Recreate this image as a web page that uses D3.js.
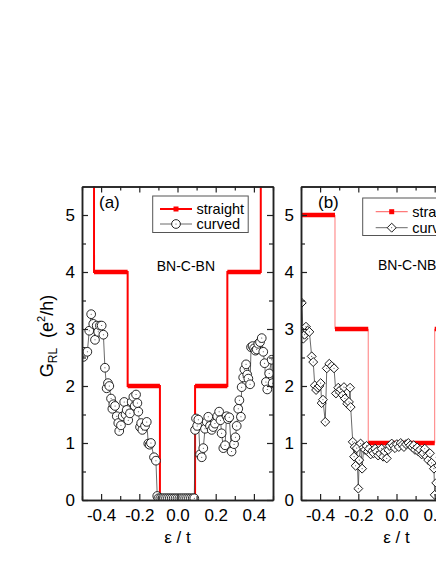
<!DOCTYPE html>
<html><head><meta charset="utf-8">
<script src="https://cdn.jsdelivr.net/npm/d3@7"></script>
<style>body{margin:0;background:#fff}svg{display:block}text{font-family:"Liberation Sans",Arial,sans-serif;fill:#000}</style>
</head><body><svg id="c" width="436" height="564"></svg>
<script>
// ---- data ----
const xTicks = [-0.4, -0.2, 0.0, 0.2, 0.4];
const yTicks = [0, 1, 2, 3, 4, 5];
const legendLabels = ["straight", "curved"];
const panelLabels = ["(a)", "(b)"];
const structLabels = ["BN-C-BN", "BN-C-NB"];

// panel (a) straight (step) data
const straightAx = [-0.437, -0.437, -0.261, -0.261, -0.092, -0.092, 0.092, 0.092, 0.261, 0.261, 0.436, 0.436];
const straightAy = [6, 4, 4, 2, 2, 0, 0, 2, 2, 4, 4, 6];
// panel (a) curved data
const curvedAx = [-0.493,-0.490,-0.472,-0.462,-0.452,-0.441,-0.432,-0.423,-0.415,-0.406,-0.397,-0.388,-0.380,-0.371,-0.364,-0.357,-0.348,-0.341,-0.336,-0.327,-0.318,-0.310,-0.305,-0.296,-0.287,-0.279,-0.272,-0.266,-0.258,-0.249,-0.240,-0.231,-0.224,-0.217,-0.210,-0.205,-0.196,-0.190,-0.184,-0.170,-0.161,-0.153,-0.146,-0.139,-0.123,-0.113,-0.106,
  -0.100,-0.090,-0.080,-0.070,-0.060,-0.050,-0.040,-0.030,-0.020,-0.010,0.000,0.010,0.020,0.030,0.040,0.050,0.060,0.070,0.080,0.088,
  0.092,0.097,0.103,0.109,0.118,0.127,0.135,0.144,0.153,0.161,0.170,0.179,0.187,0.196,0.208,0.218,0.225,0.231,0.240,0.249,0.257,0.264,0.271,0.283,0.296,0.303,0.310,0.318,0.324,0.332,0.336,0.344,0.350,0.359,0.365,0.371,0.380,0.385,0.393,0.401,0.408,0.415,0.423,0.432,0.441,0.449,0.456,0.463,0.470,0.480,0.493,0.498];
const curvedAy = [2.51,2.60,2.60,2.97,3.26,3.09,2.81,3.06,2.95,3.06,3.06,2.90,2.32,1.96,2.05,2.00,1.78,1.60,1.68,1.65,1.47,1.35,1.21,1.31,1.47,1.72,1.50,1.58,1.40,1.52,1.72,1.81,1.65,1.85,1.70,1.55,1.28,1.35,1.23,1.30,1.37,0.99,0.97,1.00,0.75,0.69,0.07,
  0.03,0.03,0.03,0.03,0.03,0.03,0.03,0.03,0.03,0.03,0.03,0.03,0.03,0.03,0.03,0.03,0.03,0.03,0.03,0.03,
  1.23,1.43,1.30,1.41,0.80,0.75,0.91,1.25,1.37,1.46,1.30,1.23,1.28,1.34,1.47,1.55,1.40,1.17,0.91,0.96,1.47,1.42,1.45,0.85,0.98,1.10,1.30,1.60,1.75,1.46,1.98,2.15,2.29,2.38,2.20,2.13,2.03,2.68,2.70,2.66,2.62,2.64,2.74,2.77,2.84,2.60,2.40,2.07,1.94,2.22,2.46,2.05];

// panel (b) straight (step) data
const straightBx = [-0.5, -0.5, -0.322, -0.322, -0.148, -0.148, 0.2, 0.2, 0.37, 0.37, 0.5];
const straightBy = [6, 5, 5, 3, 3, 1, 1, 3, 3, 5, 5];
// panel (b) curved data
const curvedBx = [-0.496,-0.488,-0.481,-0.474,-0.465,-0.456,-0.444,-0.436,-0.428,-0.421,-0.412,-0.404,-0.397,-0.392,-0.385,-0.373,-0.365,-0.352,-0.339,-0.327,-0.317,-0.305,-0.298,-0.292,-0.282,-0.275,-0.270,-0.258,-0.249,-0.243,-0.240,
  -0.229,-0.222,-0.219,-0.214,-0.208,-0.200,-0.195,-0.188,-0.180,-0.172,-0.165,-0.157,-0.150,-0.143,-0.135,-0.127,-0.120,-0.112,-0.104,-0.096,-0.086,-0.078,-0.070,-0.062,-0.051,-0.043,-0.035,-0.025,-0.016,-0.008,
  0.002,0.012,0.022,0.030,0.039,0.050,0.062,0.072,0.082,0.090,0.097,0.108,0.115,0.123,0.132,0.140,0.148,0.158,0.166,0.175,0.184,0.196,0.200,0.208,0.218,0.230];
const curvedBy = [3.46,2.83,2.90,3.04,2.97,2.95,2.52,2.42,2.01,1.93,1.97,2.00,2.05,1.70,1.76,1.37,2.31,2.39,2.35,2.31,1.87,1.97,1.90,1.94,1.84,1.98,1.78,1.69,1.72,1.97,1.63,
  1.02,0.76,0.93,0.60,0.91,0.20,0.70,0.99,0.55,0.92,0.88,0.95,0.85,0.90,0.80,0.86,0.82,0.90,0.85,0.78,0.81,0.90,0.76,0.85,0.73,0.88,0.95,0.99,0.95,0.91,
  0.98,0.93,1.00,0.97,0.93,0.98,1.00,0.96,0.93,0.96,0.88,0.92,0.85,0.88,0.80,0.82,0.90,0.76,0.70,0.82,0.65,0.55,0.09,0.30,0.60,0.75];

// ---- drawing ----
const svg = d3.select("#c");
const yTop = 186.5, yBot = 500;
const y = d3.scaleLinear().domain([0, 5.5]).range([yBot, yTop]);
const panels = [
  {x0: 82, x1: 273, sx: straightAx, sy: straightAy, cx: curvedAx, cy: curvedAy, marker: "circle", thin: false,
   leg: {x: 152.7, y: 196, w: 95.5, h: 36.5, r1: 209, r2: 224, lx: 160}, struct: {x: 156.7, y: 271}},
  {x0: 301, x1: 492, sx: straightBx, sy: straightBy, cx: curvedBx, cy: curvedBy, marker: "diamond", thin: true,
   leg: {x: 362.7, y: 198, w: 96, h: 37.5, r1: 211.7, r2: 227.7, lx: 375.7}, struct: {x: 378, y: 270}}
];

panels.forEach((p, i) => {
  const x = d3.scaleLinear().domain([-0.5, 0.5]).range([p.x0, p.x1]);
  const g = svg.append("g");
  const clipId = "clip" + i;
  svg.append("clipPath").attr("id", clipId).append("rect")
    .attr("x", p.x0).attr("y", yTop).attr("width", p.x1 - p.x0).attr("height", yBot - yTop);
  const plot = g.append("g").attr("clip-path", `url(#${clipId})`);

  // straight step line
  const sData = p.sx.map((v, k) => [v, p.sy[k]]);
  plot.append("path").datum(sData)
    .attr("d", d3.line().x(d => x(d[0])).y(d => y(d[1])))
    .attr("fill", "none")
    .attr("stroke", p.thin ? "#ff7a7a" : "#ff0000")
    .attr("stroke-width", p.thin ? 1 : 2);
  // plateaus (dense square markers)
  for (let k = 0; k < sData.length - 1; k++) {
    if (sData[k][1] === sData[k + 1][1] && sData[k][1] <= 5.5) {
      plot.append("line")
        .attr("x1", x(sData[k][0])).attr("x2", x(sData[k + 1][0]))
        .attr("y1", y(sData[k][1])).attr("y2", y(sData[k][1]))
        .attr("stroke", "#ff0000").attr("stroke-width", 4.5);
    }
  }

  // curved
  const cData = p.cx.map((v, k) => [v, p.cy[k]]);
  plot.append("path").datum(cData)
    .attr("d", d3.line().x(d => x(d[0])).y(d => y(d[1])))
    .attr("fill", "none").attr("stroke", "#444").attr("stroke-width", 0.8);
  const isDia = p.marker !== "circle";
  const sym = isDia ? d3.symbol().type(d3.symbolSquare).size(40)
                    : d3.symbol().type(d3.symbolCircle).size(60);
  const rot = isDia ? " rotate(45)" : "";
  const mk = plot.append("g").selectAll("g").data(cData).join("g")
    .attr("transform", d => `translate(${x(d[0])},${y(d[1])})${rot}`);
  mk.append("path").attr("d", sym()).attr("fill", "#fff").attr("stroke", "#111").attr("stroke-width", 0.9);
  mk.append("circle").attr("r", 0.5).attr("fill", "#333");

  // axes
  const axG = g.append("g");
  const addAxis = (axis, tx, ty, labels) => {
    const a = axG.append("g").attr("transform", `translate(${tx},${ty})`).call(axis);
    a.select(".domain").attr("stroke", "#222").attr("stroke-width", 1.5);
    a.selectAll(".tick line").attr("stroke", "#222").attr("stroke-width", 1.2);
    a.selectAll("text").attr("font-size", 17).attr("font-family", '"Liberation Sans",Arial,sans-serif').attr("fill", "#000");
    if (!labels) a.selectAll("text").remove();
    return a;
  };
  const minorX = d3.range(-0.5, 0.5001, 0.1).map(v => +v.toFixed(2)).filter(v => !xTicks.some(t => Math.abs(t - v) < 1e-6));
  const minorY = d3.range(0.5, 5.5, 1);
  // bottom
  addAxis(d3.axisBottom(x).tickValues(xTicks).tickSize(-6).tickSizeOuter(0).tickPadding(9)
    .tickFormat(d => d3.format(".1f")(d).replace("\u2212", "-")), 0, yBot, true);
  addAxis(d3.axisBottom(x).tickValues(minorX).tickSize(-4).tickSizeOuter(0), 0, yBot, false);
  // top
  addAxis(d3.axisTop(x).tickValues(xTicks).tickSize(-6).tickSizeOuter(0), 0, yTop, false);
  addAxis(d3.axisTop(x).tickValues(minorX).tickSize(-4).tickSizeOuter(0), 0, yTop, false);
  // left
  addAxis(d3.axisLeft(y).tickValues(yTicks).tickSize(-6).tickSizeOuter(0).tickPadding(7).tickFormat(d3.format("d")), p.x0, 0, true);
  addAxis(d3.axisLeft(y).tickValues(minorY).tickSize(-4).tickSizeOuter(0), p.x0, 0, false);
  // right
  addAxis(d3.axisRight(y).tickValues(yTicks).tickSize(-6).tickSizeOuter(0), p.x1, 0, false);
  addAxis(d3.axisRight(y).tickValues(minorY).tickSize(-4).tickSizeOuter(0), p.x1, 0, false);

  // x title
  g.append("text").attr("x", (p.x0 + p.x1) / 2).attr("y", 543).attr("text-anchor", "middle")
    .attr("font-size", 17).text("ε / t");

  // panel label
  g.append("text").attr("x", p.x0 + 17).attr("y", 208).attr("font-size", 17).text(panelLabels[i]);

  // structure label
  g.append("text").attr("x", p.struct.x).attr("y", p.struct.y).attr("font-size", 14).text(structLabels[i]);

  // legend
  const L = p.leg;
  g.append("rect").attr("x", L.x).attr("y", L.y).attr("width", L.w).attr("height", L.h)
    .attr("fill", "#fff").attr("stroke", "#555").attr("stroke-width", 1);
  g.append("line").attr("x1", L.lx).attr("x2", L.lx + 32).attr("y1", L.r1).attr("y2", L.r1)
    .attr("stroke", p.thin ? "#ff7a7a" : "#ff0000").attr("stroke-width", p.thin ? 1.2 : 2);
  g.append("rect").attr("x", L.lx + 16 - 2.5).attr("y", L.r1 - 2.5).attr("width", 5).attr("height", 5).attr("fill", "#ff0000");
  g.append("line").attr("x1", L.lx).attr("x2", L.lx + 32).attr("y1", L.r2).attr("y2", L.r2)
    .attr("stroke", "#444").attr("stroke-width", 0.8);
  const lm = g.append("g").attr("transform", `translate(${L.lx + 16},${L.r2})${rot}`);
  lm.append("path").attr("d", sym()).attr("fill", "#fff").attr("stroke", "#111").attr("stroke-width", 0.9);
  lm.append("circle").attr("r", 0.5).attr("fill", "#333");
  g.append("text").attr("x", L.lx + 36.5).attr("y", L.r1 + 5).attr("font-size", 14.5).text(legendLabels[0]);
  g.append("text").attr("x", L.lx + 36.5).attr("y", L.r2 + 5).attr("font-size", 14.5).text(legendLabels[1]);
});

// y title
const yt = svg.append("text").attr("transform", "translate(53,336) rotate(-90)")
  .attr("text-anchor", "middle").attr("font-size", 18);
yt.append("tspan").text("G");
yt.append("tspan").attr("font-size", 12).attr("dy", 4).text("RL");
yt.append("tspan").attr("dy", -4).text("\u00a0 (e");
yt.append("tspan").attr("font-size", 11).attr("dy", -8).text("2");
yt.append("tspan").attr("dy", 8).text("/h)");
</script></body></html>
